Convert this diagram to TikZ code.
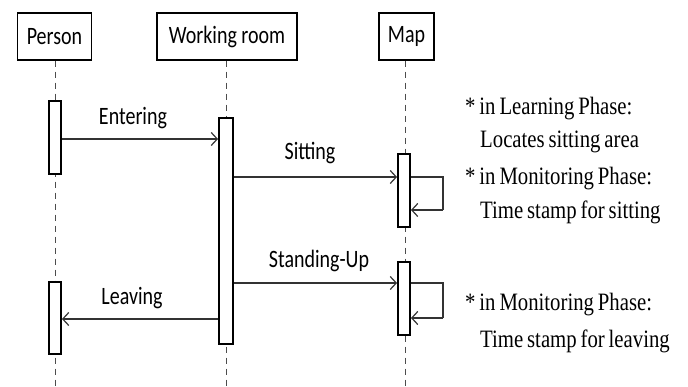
\documentclass[tikz,border=0pt]{standalone}
\usepackage{graphicx}
\usepackage{fontspec}
\setmainfont[WordSpace=0.75]{Liberation Serif}
\newfontfamily\lblfont{Carlito}
\usetikzlibrary{arrows.meta}
\newcommand{\sqz}[1]{\scalebox{0.8}[1]{#1}}
\newcommand{\sqn}[1]{\scalebox{0.83}[1]{#1}}
\begin{document}
\begin{tikzpicture}[x=1pt,y=-1pt,
  head/.style={draw, line width=1.2pt, minimum height=47pt, inner sep=0pt, font=\lblfont\fontsize{25}{28}\selectfont},
  act/.style={draw, fill=white, line width=1.9pt, minimum width=12pt, inner sep=0pt},
  life/.style={draw=black!70, dash pattern=on 6pt off 5pt, line width=0.8pt},
  msg/.style={draw=black!80, line width=1.2pt, -{Straight Barb[length=6pt,width=13pt]}},
  loopline/.style={draw=black!80, line width=1.2pt},
  lbl/.style={font=\lblfont\fontsize{25}{28}\selectfont, inner sep=0pt},
  note/.style={font=\fontsize{25}{28}\selectfont, anchor=base west, inner sep=0pt}]
\useasboundingbox (0,0) rectangle (688,387);
% headers
\node[head, minimum width=74pt] (ph) at (54.5,36.5) {\sqz{Person}};
\node[head, minimum width=140pt] (wh) at (227,36.5) {\sqz{Working room}};
\node[head, minimum width=55pt] (mh) at (406.5,36.5) {\sqz{Map}};
% lifelines
\draw[life] (ph.south -| 55,0) -- (55,387);
\draw[life] (wh.south -| 226,0) -- (226,387);
\draw[life] (mh.south -| 405,0) -- (405,387);
% activations
\node[act, minimum height=73pt] (pa1) at (55,137.5) {};
\node[act, minimum height=72pt] (pa2) at (55,318) {};
\node[act, minimum width=14pt, minimum height=226pt] (wa) at (226,231) {};
\node[act, minimum height=73pt] (ma1) at (404,190.5) {};
\node[act, minimum height=73pt] (ma2) at (404,298.5) {};
% y levels
\coordinate (yE) at (0,139);
\coordinate (yS) at (0,177);
\coordinate (yS2) at (0,210);
\coordinate (yU) at (0,283);
\coordinate (yU2) at (0,318);
\coordinate (yL) at (0,319);
\coordinate (lx) at (443,0);
% messages
\draw[msg] (pa1.east |- yE) -- (wa.west |- yE);
\draw[msg] (wa.east |- yS) -- (ma1.west |- yS);
\draw[loopline] (ma1.east |- yS) -- (lx |- yS) -- (lx |- yS2);
\draw[msg] (lx |- yS2) -- (ma1.east |- yS2);
\draw[msg] (wa.east |- yU) -- (ma2.west |- yU);
\draw[loopline] (ma2.east |- yU) -- (lx |- yU) -- (lx |- yU2);
\draw[msg] (lx |- yU2) -- (ma2.east |- yU2);
\draw[msg] (wa.west |- yL) -- (pa2.east |- yL);
% labels
\node[lbl] (le) at (133,118) {\sqz{Entering}};
\node[lbl] (ls) at (310,153) {\sqz{Sitting}};
\node[lbl] (lu) at (319,261) {\sqz{Standing-Up}};
\node[lbl] (ll) at (132,298) {\sqz{Leaving}};
% notes
\node[note] (n1) at (465,115) {\sqn{* in Learning Phase:}};
\node[note] (n2) at (480,148) {\sqn{Locates sitting area}};
\node[note] (n3) at (465,185) {\sqn{* in Monitoring Phase:}};
\node[note] (n4) at (480,219) {\sqn{Time stamp for sitting}};
\node[note] (n5) at (465,311) {\sqn{* in Monitoring Phase:}};
\node[note] (n6) at (480,347) {\sqn{Time stamp for leaving}};
\end{tikzpicture}
\end{document}
